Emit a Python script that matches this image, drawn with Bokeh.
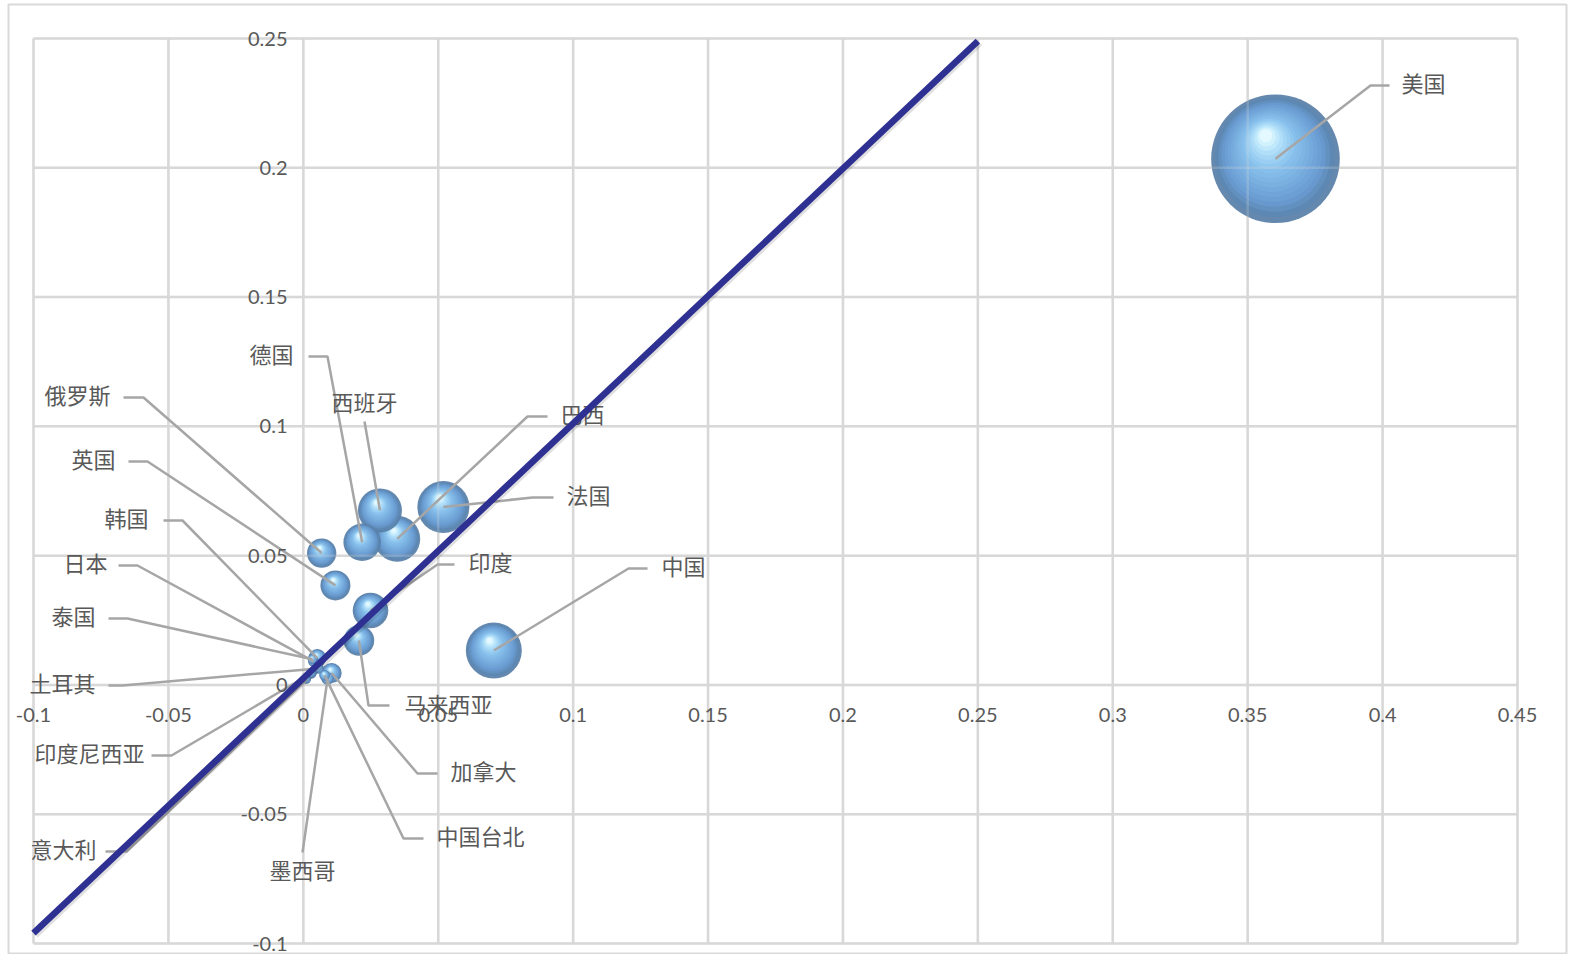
import math
from bokeh.plotting import figure
from bokeh.models import ColumnDataSource, Range1d
from bokeh.core.properties import value
from bokeh.embed import file_html
from bokeh.resources import INLINE

# ---------------- data ----------------
countries = ["美国", "中国", "法国", "巴西", "西班牙", "德国", "俄罗斯", "英国", "印度",
             "马来西亚", "韩国", "日本", "泰国", "土耳其", "印度尼西亚", "意大利",
             "墨西哥", "中国台北", "加拿大"]
x_vals = [0.3603, 0.0706, 0.0519, 0.0348, 0.0284, 0.0218, 0.0068, 0.0119, 0.0249,
          0.0206, 0.0052, 0.0038, 0.0034, 0.0056, 0.0030, 0.0012, 0.0090, 0.0079, 0.0105]
y_vals = [0.2035, 0.0133, 0.0688, 0.0565, 0.0675, 0.0552, 0.0510, 0.0385, 0.0288,
          0.0172, 0.0104, 0.0091, 0.0099, 0.0064, 0.0045, 0.0021, 0.0025, 0.0037, 0.0046]
bubble_vals = [0.36, 0.0683, 0.0589, 0.0461, 0.0421, 0.0305, 0.0188, 0.0196, 0.0276,
               0.0204, 0.0070, 0.0025, 0.0020, 0.0025, 0.0025, 0.0016, 0.0035, 0.0025, 0.0088]

x_ticks = [-0.1, -0.05, 0.0, 0.05, 0.1, 0.15, 0.2, 0.25, 0.3, 0.35, 0.4, 0.45]
x_tick_labels = ["-0.1", "-0.05", "0", "0.05", "0.1", "0.15", "0.2", "0.25", "0.3", "0.35", "0.4", "0.45"]
y_ticks = [-0.1, -0.05, 0.0, 0.05, 0.1, 0.15, 0.2, 0.25]
y_tick_labels = ["-0.1", "-0.05", "0", "0.05", "0.1", "0.15", "0.2", "0.25"]

diag_x = [-0.1, 0.25]
diag_y = [-0.096, 0.249]

# ---------------- layout (pixels) ----------------
W, H = 1574, 954
FR_L, FR_R, FR_T, FR_B = 8, 1566, 4, 953      # outer chart border
PL_L, PL_R, PL_T, PL_B = 33, 1517, 38, 943    # plot area

X_MIN, X_MAX = x_ticks[0], x_ticks[-1]
Y_MIN, Y_MAX = y_ticks[0], y_ticks[-1]
sx = (PL_R - PL_L) / (X_MAX - X_MIN)
sy = (PL_B - PL_T) / (Y_MAX - Y_MIN)


def px_x(px):
    return X_MIN + (px - PL_L) / sx


def px_y(py):
    return Y_MAX - (py - PL_T) / sy


# label layout: text anchor (px), alignment, leader elbow points (px)
label_layout = {
    "美国": (1401, 85, "left", [(1389, 85), (1370, 85)]),
    "中国": (661, 568, "left", [(647, 568), (628, 568)]),
    "法国": (566, 497, "left", [(553, 497), (532, 497)]),
    "巴西": (560, 416, "left", [(547, 416), (527, 416)]),
    "印度": (468, 564, "left", [(454, 564), (437, 564)]),
    "马来西亚": (404, 706, "left", [(389, 705), (368, 705)]),
    "加拿大": (450, 773, "left", [(437, 773), (417, 773)]),
    "中国台北": (436, 838, "left", [(423, 838), (403, 838)]),
    "西班牙": (364, 404, "center", [(364, 421)]),
    "墨西哥": (302, 872, "center", [(302, 852)]),
    "德国": (293, 356, "right", [(308, 356), (327, 356)]),
    "俄罗斯": (110, 397, "right", [(123, 397), (143, 397)]),
    "英国": (115, 461, "right", [(128, 461), (147, 461)]),
    "韩国": (148, 520, "right", [(163, 520), (182, 520)]),
    "日本": (107, 565, "right", [(118, 565), (137, 565)]),
    "泰国": (95, 618, "right", [(108, 618), (127, 618)]),
    "土耳其": (95, 685, "right", [(108, 685), (122, 685)]),
    "印度尼西亚": (144, 755, "right", [(151, 755), (171, 755)]),
    "意大利": (96, 851, "right", [(105, 851), (126, 851)]),
}

GRID_COLOR = "#d9d9d9"
TEXT_COLOR = "#595959"
LEADER_COLOR = "#a6a6a6"
R_MAX = 64.3

p = figure(width=W, height=H,
           x_range=Range1d(px_x(FR_L), px_x(FR_R)),
           y_range=Range1d(px_y(FR_B), px_y(FR_T)),
           x_axis_type=None, y_axis_type=None,
           output_backend="svg", toolbar_location=None,
           min_border_left=FR_L, min_border_right=W - FR_R,
           min_border_top=FR_T, min_border_bottom=H - FR_B)
p.outline_line_color = GRID_COLOR
p.outline_line_width = 2
p.background_fill_color = "white"
p.border_fill_color = "white"

# grid lines
p.segment(x0=x_ticks, y0=[Y_MIN] * len(x_ticks), x1=x_ticks, y1=[Y_MAX] * len(x_ticks),
          line_color=GRID_COLOR, line_width=2.5)
p.segment(x0=[X_MIN] * len(y_ticks), y0=y_ticks, x1=[X_MAX] * len(y_ticks), y1=y_ticks,
          line_color=GRID_COLOR, line_width=2.5)


# ---------------- bubbles (shaded spheres) ----------------
def hex2rgb(h):
    h = h.lstrip("#")
    return tuple(int(h[i:i + 2], 16) for i in (0, 2, 4))


stops = [(0.0, "#587fa8"), (0.2, "#6a9dd2"), (0.6, "#88c0ec"), (0.85, "#b6e3fa"), (1.0, "#e4faff")]


def shade(t):
    for (t0, c0), (t1, c1) in zip(stops[:-1], stops[1:]):
        if t <= t1:
            a = (t - t0) / (t1 - t0)
            r0, g0, b0 = hex2rgb(c0)
            r1, g1, b1 = hex2rgb(c1)
            return "#%02x%02x%02x" % (round(r0 + (r1 - r0) * a), round(g0 + (g1 - g0) * a),
                                      round(b0 + (b1 - b0) * a))
    return stops[-1][1]


vmax = max(bubble_vals)
order = sorted(range(len(countries)), key=lambda i: -bubble_vals[i])
N = 18
for i in order:
    r = R_MAX * math.sqrt(bubble_vals[i] / vmax)
    xs, ys, sizes, cols = [], [], [], []
    for k in range(N):
        t = k / (N - 1)
        f = 1 - 0.9 * t ** 0.9
        xs.append(x_vals[i] - 0.15 * r * t / sx)
        ys.append(y_vals[i] + 0.36 * r * t / sy)
        sizes.append(2 * r * f)
        cols.append(shade(t))
    src = ColumnDataSource(dict(x=xs, y=ys, s=sizes, c=cols))
    p.scatter("x", "y", size="s", fill_color="c", line_color=None, fill_alpha=0.93, source=src)

# faint grid visible through bubbles
p.segment(x0=x_ticks, y0=[Y_MIN] * len(x_ticks), x1=x_ticks, y1=[Y_MAX] * len(x_ticks),
          line_color=GRID_COLOR, line_width=2.5, line_alpha=0.25)
p.segment(x0=[X_MIN] * len(y_ticks), y0=y_ticks, x1=[X_MAX] * len(y_ticks), y1=y_ticks,
          line_color=GRID_COLOR, line_width=2.5, line_alpha=0.25)

# ---------------- leader lines and labels ----------------
lxs, lys = [], []
groups = {"left": ([], [], []), "right": ([], [], []), "center": ([], [], [])}
for i, name in enumerate(countries):
    tx, ty, align, pts = label_layout[name]
    lxs.append([px_x(a) for a, b in pts] + [x_vals[i]])
    lys.append([px_y(b) for a, b in pts] + [y_vals[i]])
    g = groups[align]
    g[0].append(px_x(tx))
    g[1].append(px_y(ty))
    g[2].append(name)

p.multi_line(xs=lxs, ys=lys, line_color=LEADER_COLOR, line_width=2.5)

for align, (gx, gy, gt) in groups.items():
    p.text(x=gx, y=gy, text=gt, text_align=align, text_baseline="middle", y_offset=-4,
           text_font=value("Noto Sans CJK SC"), text_font_size="22px", text_color=TEXT_COLOR)

# ---------------- diagonal reference line ----------------
p.line([v + 2 / sx for v in diag_x], [v - 2 / sy for v in diag_y], line_color="#000000",
       line_alpha=0.12, line_width=6.5)
p.line(diag_x, diag_y, line_color="#2e3192", line_width=6.5)

# ---------------- tick labels (axes cross at 0) ----------------
p.text(x=x_ticks, y=[px_y(714)] * len(x_ticks), text=x_tick_labels,
       text_align="center", text_baseline="middle", text_font=value("Lato"),
       text_font_size="20px", text_color=TEXT_COLOR)
p.text(x=[px_x(287)] * len(y_ticks), y=y_ticks, text=y_tick_labels,
       text_align="right", text_baseline="middle", text_font=value("Lato"),
       text_font_size="20px", text_color=TEXT_COLOR)

open("out.html", "w").write(file_html(p, INLINE))
